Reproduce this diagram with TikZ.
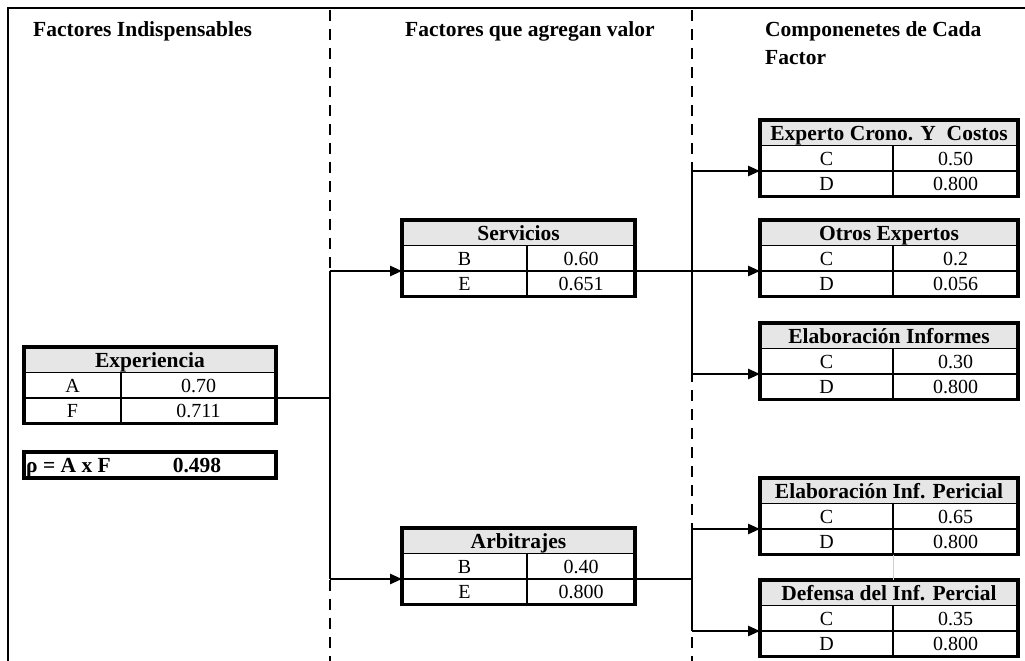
\documentclass[tikz,border=0pt]{standalone}
\usepackage{fontspec}
\setmainfont{Liberation Serif}
\usetikzlibrary{arrows.meta}

\definecolor{hdrgray}{HTML}{E6E6E6}
\definecolor{gridgray}{HTML}{D0D0D0}
\newcommand{\tblhead}{\fontsize{21.5}{26}\selectfont\bfseries}
\newcommand{\tblval}{\fontsize{20}{24}\selectfont}

\tikzset{
  cell/.style={draw, line width=1.8pt, inner sep=0pt, outer sep=0pt,
    minimum height=25.5pt, text height=15pt, text depth=1pt, font=\tblval},
  hdrcell/.style={cell, fill=hdrgray, text height=16pt, font=\tblhead},
  tframe/.style={line width=3.2pt},
  conn/.style={line width=2.6pt},
  arr/.style={conn, -{Triangle[length=12pt,width=10pt]}},
  divider/.style={line width=2.8pt, dash pattern=on 11pt off 8pt},
  title/.style={font=\tblhead, anchor=base west, inner sep=0pt},
  rhotext/.style={font=\tblhead, inner sep=0pt, text height=15pt, text depth=1pt},
}

% A factor table: header row plus two rows of label / value
% #1 name, #2 top-left corner, #3 width, #4 width of the label column,
% #5 header, #6 #7 first row, #8 #9 second row
\newcommand{\ftable}[9]{%
  \coordinate (#1-nw) at (#2);
  \node[hdrcell, minimum width=#3, anchor=north west] (#1-h) at (#1-nw) {#5};
  \node[cell, minimum width=#4, anchor=north west] (#1-l1) at (#1-h.south west) {#6};
  \node[cell, minimum width=#3-#4, anchor=north west] (#1-v1) at (#1-l1.north east) {#7};
  \node[cell, minimum width=#4, anchor=north west] (#1-l2) at (#1-l1.south west) {#8};
  \node[cell, minimum width=#3-#4, anchor=north west] (#1-v2) at (#1-l2.north east) {#9};
  \draw[tframe] (#1-h.north west) rectangle (#1-v2.south east);
}

\begin{document}
\begin{tikzpicture}[x=1pt,y=-1pt]
\useasboundingbox (0,0) rectangle (1025,661);

% outer frame
\draw[line width=2.8pt] (8,661) -- (8,8) -- (1025,8);

% column dividers
\coordinate (divL) at (330,0);
\coordinate (divR) at (692,0);
\draw[divider] (330,10) -- (330,661);
\draw[divider] (692,10) -- (692,661);

% column titles
\node[title] (ttl1) at (33,37) {Factores Indispensables};
\node[title] (ttl2) at (405,37) {Factores que agregan valor};
\node[title] (ttl3) at (765,37) {Componenetes de Cada};
\node[title] (ttl3b) at (765,64) {Factor};

% tables
\ftable{exp}{24,347}{252}{97}{Experiencia}{A}{0.70}{F}{0.711}
\ftable{serv}{402,220}{233}{125}{Servicios}{B}{0.60}{E}{0.651}
\ftable{arb}{402,528}{233}{125}{Arbitrajes}{B}{0.40}{E}{0.800}
\ftable{expc}{760,120}{258}{133}{Experto Crono. Y~ Costos}{C}{0.50}{D}{0.800}
\ftable{otr}{760,220}{258}{133}{Otros Expertos}{C}{0.2}{D}{0.056}
\ftable{inf}{760,323}{258}{133}{Elaboración Informes}{C}{0.30}{D}{0.800}
\ftable{per}{760,478}{258}{133}{Elaboración Inf. Pericial}{C}{0.65}{D}{0.800}
\ftable{def}{760,580}{258}{133}{Defensa del Inf. Percial}{C}{0.35}{D}{0.800}

% faint grid line between the last two tables
\draw[gridgray, line width=1pt] (per-v2.south west) -- (def-h.north -| per-v2.south west);

% product box
\node[draw, tframe, minimum width=252, minimum height=26, inner sep=0pt, outer sep=0pt,
  anchor=north west] (rho) at (24,452) {};
\node[rhotext, anchor=west] (rhoeq) at ([xshift=2pt]rho.west) {ρ = A x F};
\node[rhotext] (rhoval) at (197,465) {0.498};

% left connectors
\draw[conn] (exp-v1.south east) -- (exp-v1.south east -| divL);
\draw[conn] (serv-l1.south west -| divL) -- (arb-l1.south west -| divL);
\draw[arr] (serv-l1.south west -| divL) -- (serv-l1.south west);
\draw[arr] (arb-l1.south west -| divL) -- (arb-l1.south west);

% right connectors, upper group
\draw[conn] (expc-l1.south west -| divR) -- (inf-l1.south west -| divR);
\draw[arr] (serv-v1.south east) -- (serv-v1.south east -| otr-l1.west);
\draw[arr] (expc-l1.south west -| divR) -- (expc-l1.south west);
\draw[arr] (inf-l1.south west -| divR) -- (inf-l1.south west);

% right connectors, lower group
\draw[conn] (arb-v1.south east) -- (arb-v1.south east -| divR);
\draw[conn] (per-l1.south west -| divR) -- (def-l1.south west -| divR);
\draw[arr] (per-l1.south west -| divR) -- (per-l1.south west);
\draw[arr] (def-l1.south west -| divR) -- (def-l1.south west);
\end{tikzpicture}
\end{document}
